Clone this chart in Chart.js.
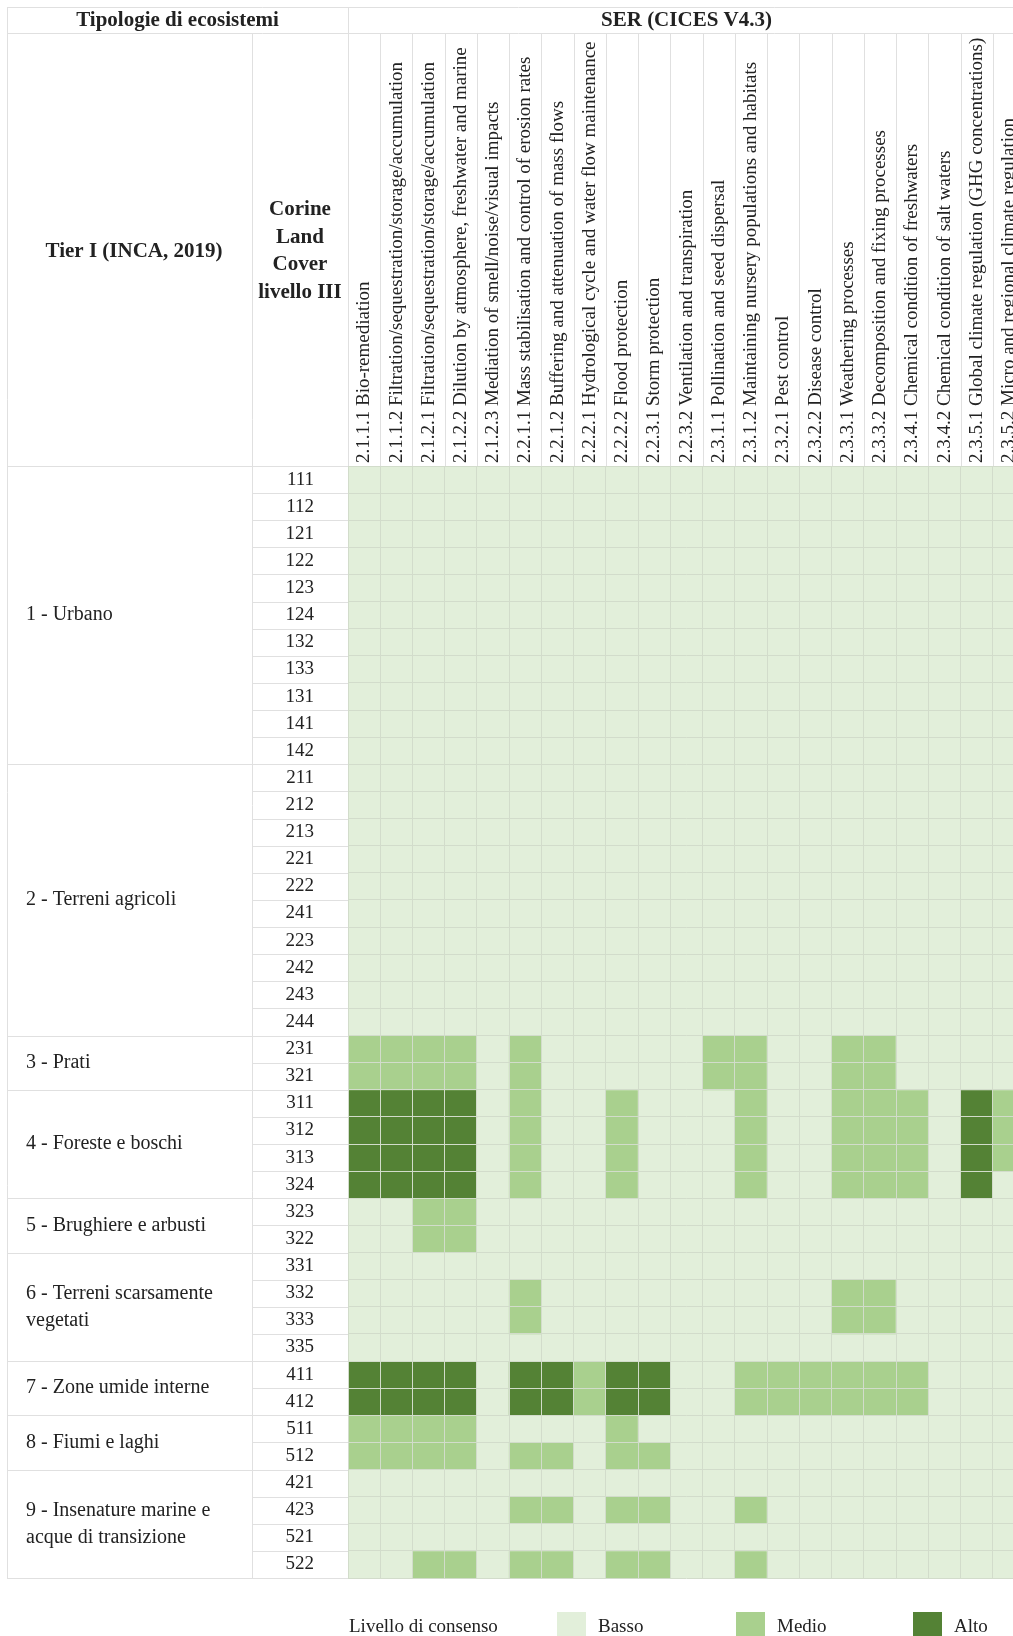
<!DOCTYPE html>
<html lang="it">
<head>
<meta charset="utf-8">
<title>Livello di consenso dei SER per tipologia di ecosistema</title>
<script src="https://cdn.jsdelivr.net/npm/chart.js"></script>
<style>
  html, body { margin: 0; padding: 0; background: #fff; overflow: hidden; }
  #wrap { width: 1030px; height: 1636px; }
</style>
</head>
<body>
<div id="wrap"><canvas id="consensoChart" width="1030" height="1636"></canvas></div>
<script>
// --- Dati ---
// Servizi ecosistemici di regolazione (colonne)
const servizi = [
  '2.1.1.1 Bio-remediation',
  '2.1.1.2 Filtration/sequestration/storage/accumulation',
  '2.1.2.1 Filtration/sequestration/storage/accumulation',
  '2.1.2.2 Dilution by atmosphere, freshwater and marine',
  '2.1.2.3 Mediation of smell/noise/visual impacts',
  '2.2.1.1 Mass stabilisation and control of erosion rates',
  '2.2.1.2 Buffering and attenuation of mass flows',
  '2.2.2.1 Hydrological cycle and water flow maintenance',
  '2.2.2.2 Flood protection',
  '2.2.3.1 Storm protection',
  '2.2.3.2 Ventilation and transpiration',
  '2.3.1.1 Pollination and seed dispersal',
  '2.3.1.2 Maintaining nursery populations and habitats',
  '2.3.2.1 Pest control',
  '2.3.2.2 Disease control',
  '2.3.3.1 Weathering processes',
  '2.3.3.2 Decomposition and fixing processes',
  '2.3.4.1 Chemical condition of freshwaters',
  '2.3.4.2 Chemical condition of salt waters',
  '2.3.5.1 Global climate regulation (GHG concentrations)',
  '2.3.5.2 Micro and regional climate regulation'
];

// Codici Corine Land Cover livello III (righe)
const codiciCorine = [
  '111', '112', '121', '122', '123', '124', '132', '133', '131', '141', '142',
  '211', '212', '213', '221', '222', '241', '223', '242', '243', '244',
  '231', '321',
  '311', '312', '313', '324',
  '323', '322',
  '331', '332', '333', '335',
  '411', '412',
  '511', '512',
  '421', '423', '521', '522'
];

// Tipologie Tier I (INCA, 2019) e numero di righe per ciascuna
const tipologie = [
  ['1 - Urbano'],
  ['2 - Terreni agricoli'],
  ['3 - Prati'],
  ['4 - Foreste e boschi'],
  ['5 - Brughiere e arbusti'],
  ['6 - Terreni scarsamente', 'vegetati'],
  ['7 - Zone umide interne'],
  ['8 - Fiumi e laghi'],
  ['9 - Insenature marine e', 'acque di transizione']
];
const righePerTipologia = [11, 10, 2, 4, 2, 4, 2, 2, 4];

// Livello di consenso: 0 = Basso, 1 = Medio, 2 = Alto
// (gruppi: 2.1.1 | 2.1.2 | 2.2.1 | 2.2.2 | 2.2.3 | 2.3.1 | 2.3.2 | 2.3.3 | 2.3.4 | 2.3.5)
const urbano = [
  '00 000 00 00 00 00 00 00 00 00', // 111
  '00 000 00 00 00 00 00 00 00 00', // 112
  '00 000 00 00 00 00 00 00 00 00', // 121
  '00 000 00 00 00 00 00 00 00 00', // 122
  '00 000 00 00 00 00 00 00 00 00', // 123
  '00 000 00 00 00 00 00 00 00 00', // 124
  '00 000 00 00 00 00 00 00 00 00', // 132
  '00 000 00 00 00 00 00 00 00 00', // 133
  '00 000 00 00 00 00 00 00 00 00', // 131
  '00 000 00 00 00 00 00 00 00 00', // 141
  '00 000 00 00 00 00 00 00 00 00'  // 142
];
const agricoli = [
  '00 000 00 00 00 00 00 00 00 00', // 211
  '00 000 00 00 00 00 00 00 00 00', // 212
  '00 000 00 00 00 00 00 00 00 00', // 213
  '00 000 00 00 00 00 00 00 00 00', // 221
  '00 000 00 00 00 00 00 00 00 00', // 222
  '00 000 00 00 00 00 00 00 00 00', // 241
  '00 000 00 00 00 00 00 00 00 00', // 223
  '00 000 00 00 00 00 00 00 00 00', // 242
  '00 000 00 00 00 00 00 00 00 00', // 243
  '00 000 00 00 00 00 00 00 00 00'  // 244
];
const prati = [
  '11 110 10 00 00 11 00 11 00 00', // 231
  '11 110 10 00 00 11 00 11 00 00'  // 321
];
const foreste = [
  '22 220 10 01 00 01 00 11 10 21', // 311
  '22 220 10 01 00 01 00 11 10 21', // 312
  '22 220 10 01 00 01 00 11 10 21', // 313
  '22 220 10 01 00 01 00 11 10 20'  // 324
];
const brughiere = [
  '00 110 00 00 00 00 00 00 00 00', // 323
  '00 110 00 00 00 00 00 00 00 00'  // 322
];
const scarsamente = [
  '00 000 00 00 00 00 00 00 00 00', // 331
  '00 000 10 00 00 00 00 11 00 00', // 332
  '00 000 10 00 00 00 00 11 00 00', // 333
  '00 000 00 00 00 00 00 00 00 00'  // 335
];
const umide = [
  '22 220 22 12 20 01 11 11 10 00', // 411
  '22 220 22 12 20 01 11 11 10 00'  // 412
];
const fiumi = [
  '11 110 00 01 00 00 00 00 00 00', // 511
  '11 110 11 01 10 00 00 00 00 00'  // 512
];
const insenature = [
  '00 000 00 00 00 00 00 00 00 00', // 421
  '00 000 11 01 10 01 00 00 00 00', // 423
  '00 000 00 00 00 00 00 00 00 00', // 521
  '00 110 11 01 10 01 00 00 00 00'  // 522
];

const nomiLivello = ['Basso', 'Medio', 'Alto'];
const coloriLivello = ['#e2efda', '#a9d08e', '#548235'];

// --- Stile ---
const FONT = '"Liberation Serif", "Times New Roman", serif';
const TESTO = '#222';
const LINEA_TABELLA = '#e0e0e0';
const LINEA_CELLE = '#d2dccb';

Chart.defaults.font.family = FONT;
Chart.defaults.color = TESTO;

const livelli = [].concat(urbano, agricoli, prati, foreste, brughiere, scarsamente, umide, fiumi, insenature)
  .map(riga => riga.replace(/ /g, '').split('').map(Number));

// ogni riga della tabella e' un dataset di barre flottanti [r, r+1]
const datasets = livelli.map((riga, r) => ({
  label: codiciCorine[r],
  data: riga.map(() => [r, r + 1]),
  backgroundColor: riga.map(l => coloriLivello[l]),
  yAxisID: 'yRighe',
  grouped: false,
  barPercentage: 1,
  categoryPercentage: 1,
  borderWidth: 0
}));

// Disegna la parte "tabella": bordi, intestazioni, tipologie e legenda
const tabellaPlugin = {
  id: 'tabella',
  afterDraw(chart) {
    const ctx = chart.ctx;
    const area = chart.chartArea;
    const scalaRighe = chart.scales.yRighe;
    const bordo = 7, colTier = 252, rigaTitoli = 33;
    const destra = chart.width;
    const passo = (area.right - area.left) / servizi.length;
    const px = v => Math.round(v) + 0.5;

    ctx.save();
    ctx.strokeStyle = LINEA_TABELLA;
    ctx.lineWidth = 1;
    const linea = (x1, y1, x2, y2) => {
      ctx.beginPath();
      ctx.moveTo(x1, y1);
      ctx.lineTo(x2, y2);
      ctx.stroke();
    };

    linea(bordo, px(bordo), destra, px(bordo));
    linea(bordo, px(rigaTitoli), destra, px(rigaTitoli));
    linea(px(bordo), bordo, px(bordo), area.bottom);
    linea(px(area.left), bordo, px(area.left), area.top);
    linea(px(colTier), rigaTitoli, px(colTier), area.bottom);
    linea(bordo, px(area.top), area.left, px(area.top));
    linea(bordo, px(area.bottom), area.left, px(area.bottom));

    // separatori verticali delle intestazioni dei servizi
    for (let j = 1; j <= servizi.length; j++) {
      const x = px(area.left + j * passo);
      linea(x, rigaTitoli, x, area.top);
    }

    // separatori orizzontali tra le righe e tra le tipologie
    const confini = [];
    righePerTipologia.reduce((acc, n) => { confini.push(acc + n); return acc + n; }, 0);
    for (let r = 1; r < codiciCorine.length; r++) {
      const y = px(scalaRighe.getPixelForValue(r));
      linea(confini.includes(r) ? bordo : colTier, y, area.left, y);
    }

    // intestazioni
    ctx.fillStyle = TESTO;
    ctx.textBaseline = 'middle';
    ctx.textAlign = 'center';
    ctx.font = 'bold 21px ' + FONT;
    ctx.fillText('Tipologie di ecosistemi', (bordo + area.left) / 2, 21);
    ctx.fillText('SER (CICES V4.3)', (area.left + area.right) / 2, 21);
    ctx.fillText('Tier I (INCA, 2019)', 134, 252);
    ['Corine', 'Land', 'Cover', 'livello III'].forEach((t, i) => {
      ctx.fillText(t, 300, 210 + i * 27.4);
    });

    // etichette delle tipologie, centrate sul proprio gruppo di righe
    ctx.textAlign = 'left';
    ctx.font = '20px ' + FONT;
    let inizio = 0;
    tipologie.forEach((righeTesto, g) => {
      const fine = inizio + righePerTipologia[g];
      const centro = (scalaRighe.getPixelForValue(inizio) + scalaRighe.getPixelForValue(fine)) / 2;
      const interlinea = 27;
      righeTesto.forEach((t, k) => {
        ctx.fillText(t, 26, centro + (k - (righeTesto.length - 1) / 2) * interlinea);
      });
      inizio = fine;
    });

    // legenda
    const yLegenda = 1627;
    ctx.font = '19px ' + FONT;
    ctx.fillText('Livello di consenso', area.left + 1, yLegenda);
    const xBox = [557, 736, 913];
    nomiLivello.forEach((nome, i) => {
      ctx.fillStyle = coloriLivello[i];
      ctx.fillRect(xBox[i], 1612, 29, 28);
      ctx.fillStyle = TESTO;
      ctx.fillText(nome, xBox[i] + 41, yLegenda);
    });
    ctx.restore();
  }
};

new Chart(document.getElementById('consensoChart'), {
  type: 'bar',
  data: {
    labels: servizi,
    datasets: datasets
  },
  options: {
    responsive: false,
    animation: false,
    events: [],
    layout: { padding: { top: 0, left: 0, right: 5, bottom: 58 } },
    scales: {
      x: {
        type: 'category',
        position: 'top',
        offset: true,
        grid: { offset: true, color: LINEA_CELLE, drawTicks: false, z: 1 },
        border: { display: false },
        ticks: {
          autoSkip: false,
          minRotation: 90,
          maxRotation: 90,
          padding: 3,
          labelOffset: 23,
          font: { size: 19 },
          color: TESTO
        },
        afterFit: scale => { scale.height = 466; }
      },
      y: {
        type: 'category',
        labels: codiciCorine,
        position: 'left',
        offset: true,
        grid: { offset: true, color: LINEA_CELLE, drawTicks: false, z: 1 },
        border: { display: false },
        ticks: { autoSkip: false, padding: 34, font: { size: 19 }, color: TESTO },
        afterFit: scale => { scale.width = 348; }
      },
      yRighe: {
        axis: 'y',
        type: 'linear',
        position: 'left',
        min: 0,
        max: codiciCorine.length,
        reverse: true,
        display: false
      }
    },
    plugins: {
      legend: { display: false },
      tooltip: { enabled: false }
    }
  },
  plugins: [tabellaPlugin]
});
</script>
</body>
</html>
